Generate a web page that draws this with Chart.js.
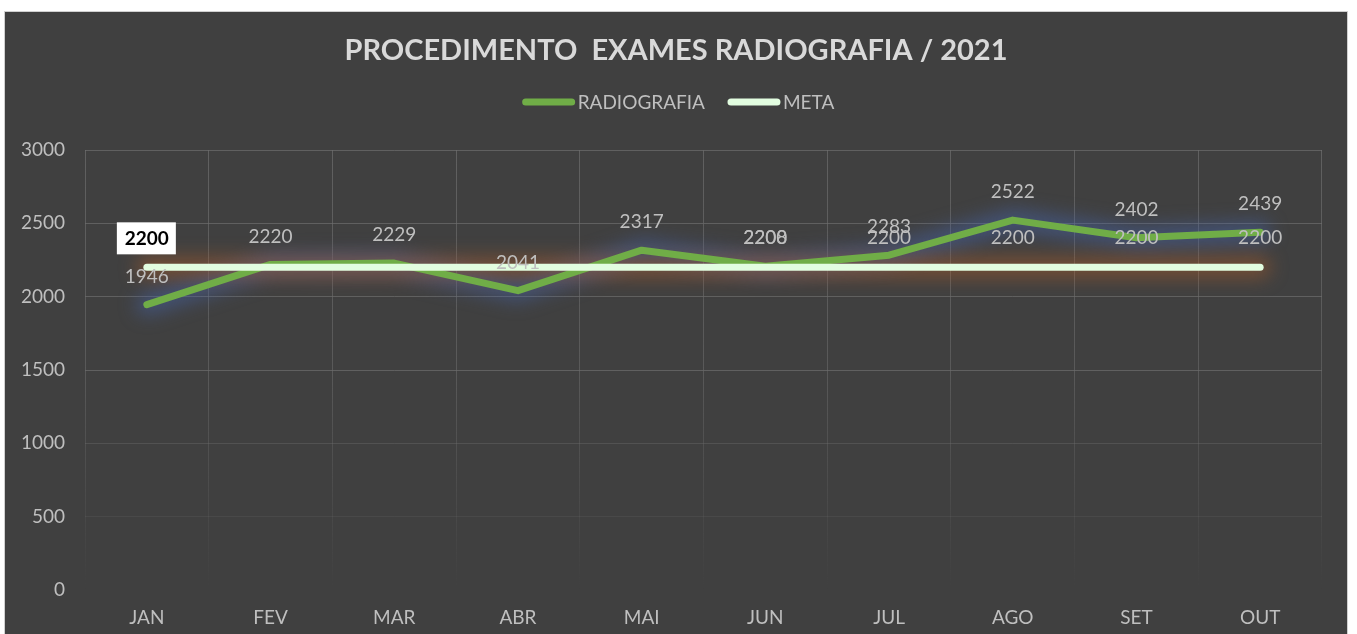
<!DOCTYPE html>
<html>
<head>
<meta charset="utf-8">
<script src="https://cdn.jsdelivr.net/npm/chart.js@4.4.1/dist/chart.umd.min.js"></script>
<style>
  html, body { margin: 0; padding: 0; background: #ffffff; overflow: hidden; }
  #box {
    position: absolute; left: 4px; top: 11px;
    width: 1342px; height: 640px;
    border: 1px solid #d0d0d0;
    background: #404040;
  }
  canvas { display: block; }
</style>
</head>
<body>
<div id="box"><canvas id="radioChart" width="1342" height="628"></canvas></div>
<script>
const chartTitle = "PROCEDIMENTO  EXAMES RADIOGRAFIA / 2021";
const months = ["JAN", "FEV", "MAR", "ABR", "MAI", "JUN", "JUL", "AGO", "SET", "OUT"];
const radiografia = [1946, 2220, 2229, 2041, 2317, 2208, 2283, 2522, 2402, 2439];
const meta = [2200, 2200, 2200, 2200, 2200, 2200, 2200, 2200, 2200, 2200];
const metaLabelShown = [true, false, false, false, false, true, true, true, true, true];
const yTicks = [0, 500, 1000, 1500, 2000, 2500, 3000];

const FONT = "Lato, 'Open Sans', sans-serif";

// soft blurred glow under the lines (all glows first, lines on top)
const glowPlugin = {
  id: "glow",
  beforeDatasetsDraw(chart) {
    const ctx = chart.ctx;
    chart.data.datasets.forEach((ds, idx) => {
      const pts = chart.getDatasetMeta(idx).data;
      ctx.save();
      ctx.filter = "blur(9px)";
      ctx.strokeStyle = ds.glowColor;
      ctx.lineWidth = 22;
      ctx.lineCap = "round";
      ctx.lineJoin = "round";
      ctx.beginPath();
      pts.forEach((p, i) => (i === 0 ? ctx.moveTo(p.x, p.y) : ctx.lineTo(p.x, p.y)));
      ctx.stroke();
      ctx.restore();
    });
  }
};

// title and legend centred on the whole canvas
const headerPlugin = {
  id: "header",
  afterDraw(chart) {
    const ctx = chart.ctx;
    const cx = chart.width / 2;
    ctx.save();
    ctx.textBaseline = "middle";
    ctx.textAlign = "center";
    ctx.fillStyle = "#d9d9d9";
    ctx.font = "bold 29px " + FONT;
    ctx.fillText(chartTitle, cx, 39);

    const datasets = chart.data.datasets;
    const markW = 46, gap = 6, itemGap = 26;
    ctx.font = "19px " + FONT;
    const widths = datasets.map(d => markW + gap + ctx.measureText(d.label).width);
    const total = widths.reduce((a, b) => a + b, 0) + itemGap * (datasets.length - 1);
    let x = cx - total / 2 + 4;
    const y = chart.chartArea.top - 48;
    ctx.textAlign = "left";
    datasets.forEach((d, i) => {
      ctx.strokeStyle = d.borderColor;
      ctx.lineWidth = 7;
      ctx.lineCap = "round";
      ctx.beginPath();
      ctx.moveTo(x, y);
      ctx.lineTo(x + markW, y);
      ctx.stroke();
      ctx.fillStyle = "#bfbfbf";
      ctx.fillText(d.label, x + markW + gap, y + 1);
      x += widths[i] + itemGap;
    });
    ctx.restore();
  }
};

// data labels above the points
const labelPlugin = {
  id: "valueLabels",
  afterDatasetsDraw(chart) {
    const ctx = chart.ctx;
    const xs = chart.scales.x;
    const ys = chart.scales.y;
    ctx.save();
    ctx.textAlign = "center";
    ctx.textBaseline = "middle";

    ctx.font = "19px " + FONT;
    ctx.fillStyle = "#bfbfbf";
    radiografia.forEach((v, i) => {
      ctx.fillText(String(v), xs.getPixelForValue(i), ys.getPixelForValue(v) - 28);
    });

    meta.forEach((v, i) => {
      if (!metaLabelShown[i]) return;
      const px = xs.getPixelForValue(i);
      const py = ys.getPixelForValue(v) - 29;
      if (i === 0) {
        ctx.fillStyle = "#ffffff";
        ctx.fillRect(px - 30, py - 16, 59, 32);
        ctx.fillStyle = "#000000";
        ctx.font = "bold 19px " + FONT;
        ctx.fillText(String(v), px, py + 1);
      } else {
        ctx.fillStyle = "#bfbfbf";
        ctx.font = "19px " + FONT;
        ctx.fillText(String(v), px, py);
      }
    });
    ctx.restore();
  }
};

function xGridColor(context) {
  const area = context.chart.chartArea;
  if (!area) return "#595959";
  const g = context.chart.ctx.createLinearGradient(0, area.top, 0, area.bottom);
  g.addColorStop(0, "rgba(110,110,110,0.7)");
  g.addColorStop(0.5, "rgba(110,110,110,0.55)");
  g.addColorStop(1, "rgba(110,110,110,0)");
  return g;
}

function yGridColor(context) {
  const v = context.tick ? context.tick.value : 0;
  if (v >= 1500) return "rgba(110,110,110,0.7)";
  if (v >= 1000) return "rgba(110,110,110,0.4)";
  if (v >= 500) return "rgba(110,110,110,0.2)";
  return "rgba(110,110,110,0)";
}

const ctx = document.getElementById("radioChart").getContext("2d");

new Chart(ctx, {
  type: "line",
  data: {
    labels: months,
    datasets: [
      {
        label: "RADIOGRAFIA",
        data: radiografia,
        borderColor: "#70ad47",
        backgroundColor: "#70ad47",
        borderWidth: 7,
        borderCapStyle: "round",
        borderJoinStyle: "round",
        pointRadius: 0,
        tension: 0,
        glowColor: "rgba(70,100,170,0.5)",
        order: 2
      },
      {
        label: "META",
        data: meta,
        borderColor: "#e2fde0",
        backgroundColor: "#e2fde0",
        borderWidth: 7,
        borderCapStyle: "round",
        pointRadius: 0,
        tension: 0,
        glowColor: "rgba(180,95,40,0.45)",
        order: 1
      }
    ]
  },
  options: {
    responsive: false,
    animation: false,
    layout: { padding: { left: 0, right: 25, top: 138, bottom: 0 } },
    plugins: {
      title: { display: false },
      legend: { display: false },
      tooltip: { enabled: false }
    },
    scales: {
      x: {
        offset: true,
        grid: { offset: true, color: xGridColor, lineWidth: 1, drawTicks: false },
        border: { display: false },
        ticks: { color: "#bfbfbf", font: { family: FONT, size: 19 }, padding: 16 },
        afterFit(scale) { scale.height = 50; }
      },
      y: {
        min: 0,
        max: 3000,
        afterBuildTicks(scale) { scale.ticks = yTicks.map(v => ({ value: v })); },
        grid: { color: yGridColor, lineWidth: 1, drawTicks: false },
        border: { display: false },
        ticks: {
          color: "#bfbfbf",
          font: { family: FONT, size: 19 },
          padding: 20,
          callback: (value) => String(value)
        },
        afterFit(scale) { scale.width = 80; }
      }
    }
  },
  plugins: [glowPlugin, labelPlugin, headerPlugin]
});
</script>
</body>
</html>
